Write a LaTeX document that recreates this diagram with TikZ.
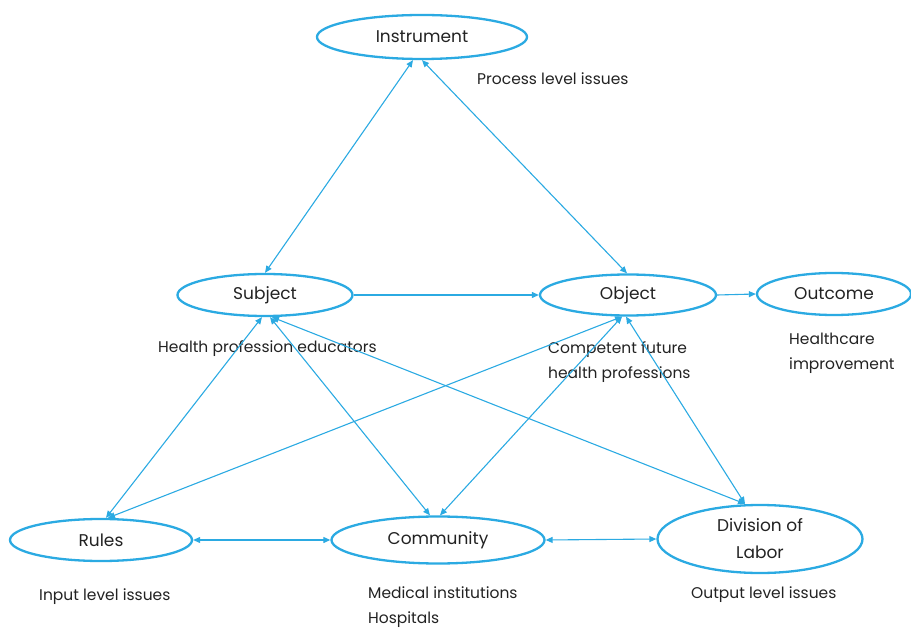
\documentclass[tikz,border=0pt]{standalone}
\usepackage{fontspec}
\setmainfont{Poppins}
\usetikzlibrary{shapes.geometric,arrows.meta}
\definecolor{linkblue}{HTML}{2BAAE2}
\definecolor{ink}{HTML}{222222}
\tikzset{
  actnode/.style={ellipse, draw=linkblue, line width=2.3pt, inner sep=0pt,
    text=ink, font=\fontsize{17}{27}\selectfont, align=center},
  note/.style={text=ink, font=\fontsize{15.5}{25}\selectfont, align=left, inner sep=0pt},
  link/.style={draw=linkblue, line width=1.1pt},
  both/.style={link, {Triangle[length=7pt,width=6pt]}-{Triangle[length=7pt,width=6pt]}},
  one/.style={link, -{Triangle[length=7pt,width=6pt]}}
}
\begin{document}
\begin{tikzpicture}[x=1pt, y=-1pt]
\useasboundingbox (0,0) rectangle (911,628);

% activity system elements
\node[actnode, minimum width=210pt, minimum height=44pt] (instr) at (422,37) {Instrument};
\node[actnode, minimum width=175pt, minimum height=42pt] (subj) at (265,295) {Subject};
\node[actnode, minimum width=176pt, minimum height=41pt] (obj) at (628,295) {Object};
\node[actnode, minimum width=154pt, minimum height=42pt] (outc) at (834,294) {Outcome};
\node[actnode, minimum width=182pt, minimum height=42pt] (rules) at (101,540) {Rules};
\node[actnode, minimum width=213pt, minimum height=47pt] (comm) at (438,540) {Community};
\node[actnode, minimum width=205pt, minimum height=68pt] (div) at (760,539) {Division of\\Labor};

% annotations
\node[note, anchor=west] (nproc) at (477,79) {Process level issues};
\node[note, anchor=west] (nsubj) at (158,349) {Health profession educators};
\node[note, anchor=north west] (nobj) at (548,341) {Competent future\\health professions};
\node[note, anchor=north west] (noutc) at (789,333) {Healthcare\\improvement};
\node[note, anchor=north west] (ncomm) at (368,587) {Medical institutions\\Hospitals};
\node[note, anchor=west] (nrules) at (39,596.5) {Input level issues};
\node[note, anchor=west] (ndiv) at (691,594.5) {Output level issues};

% connectors
\draw[both] (subj.north) -- ([xshift=-9pt]instr.south);
\draw[both] ([xshift=0pt]instr.south) -- ([xshift=-1pt]obj.north);
\draw[one] (subj.east) -- (obj.west);
\draw[one] (obj.east) -- (outc.west);
\draw[both] ([xshift=5pt]rules.north) -- ([xshift=-3pt]subj.south);
\draw[both] ([xshift=7pt]rules.north) -- ([xshift=-6pt]obj.south);
\draw[both] ([xshift=5pt]subj.south) -- ([xshift=-8pt]comm.north);
\draw[both] ([xshift=-6pt]obj.south) -- ([xshift=2pt]comm.north);
\draw[both] ([xshift=7pt]subj.south) -- ([xshift=-15pt]div.north);
\draw[both] ([xshift=-2pt]obj.south) -- ([xshift=-15pt]div.north);
\draw[both] (rules.east) -- (comm.west);
\draw[both] (comm.east) -- (div.west);
\end{tikzpicture}
\end{document}
